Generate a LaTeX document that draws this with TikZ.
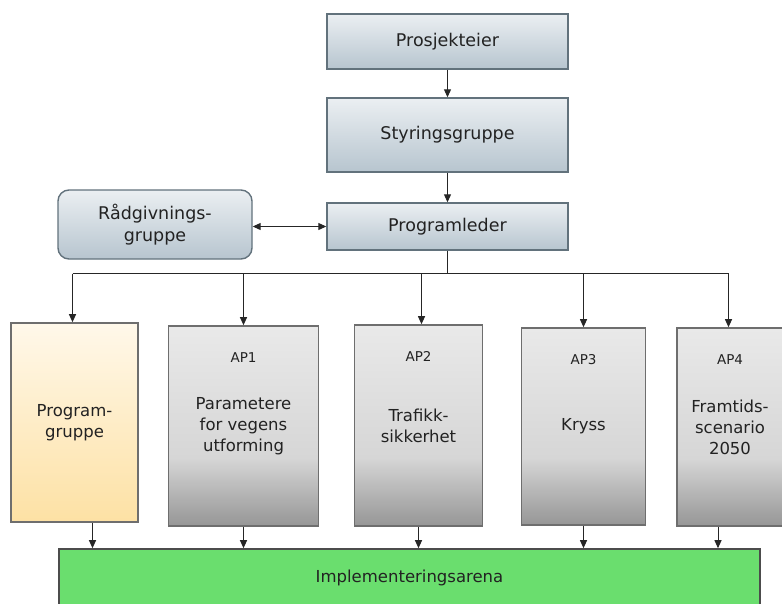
\documentclass[tikz,border=0pt]{standalone}
\usepackage{fontspec}
\setmainfont{DejaVu Sans}
\usetikzlibrary{arrows.meta}

\definecolor{hdtop}{HTML}{EBEFF2}
\definecolor{hdbot}{HTML}{B7C5CF}
\definecolor{hdline}{HTML}{62727C}
\definecolor{aptop}{HTML}{E9E9E9}
\definecolor{apmid}{HTML}{D6D6D6}
\definecolor{apbot}{HTML}{969696}
\definecolor{apline}{HTML}{6E6E6E}
\definecolor{pgtop}{HTML}{FFF8EA}
\definecolor{pgbot}{HTML}{FDE1A4}
\definecolor{implfill}{HTML}{6ADE6E}
\definecolor{txt}{HTML}{222222}

% grey work-package shading: light at the top, darkening in the lower third
\pgfdeclareverticalshading{apshade}{100bp}{color(0bp)=(apbot); color(25bp)=(apbot); color(42bp)=(apmid); color(75bp)=(aptop); color(100bp)=(aptop)}

\tikzset{
  hdbox/.style={draw=hdline, line width=1.4pt, top color=hdtop, bottom color=hdbot,
    text=txt, font=\fontsize{17.5}{22}\selectfont, align=center, inner sep=0pt},
  apbox/.style={draw=apline, line width=1.6pt, shading=apshade,
    text=txt, font=\fontsize{16.5}{21}\selectfont, align=center, inner sep=0pt},
  pgbox/.style={draw=apline, line width=1.6pt, top color=pgtop, bottom color=pgbot,
    text=txt, font=\fontsize{16.5}{21}\selectfont, align=center, inner sep=0pt},
  implbox/.style={draw=black!70, line width=1.6pt, fill=implfill,
    text=txt, font=\fontsize{16.5}{21}\selectfont, align=center, inner sep=0pt},
  aplabel/.style={text=txt, font=\fontsize{13.5}{15}\selectfont, inner sep=0pt},
  conn/.style={line width=1pt, draw=black!85},
  arr/.style={conn, -{Triangle[length=8pt,width=7pt]}},
  darr/.style={conn, {Triangle[length=8pt,width=7pt]}-{Triangle[length=8pt,width=7pt]}},
}

\begin{document}
\begin{tikzpicture}[x=1pt, y=-1pt]
  \useasboundingbox (0,0) rectangle (782,603);

  % management chain
  \node[hdbox, minimum width=241, minimum height=55] (proj) at (447.5,41.5) {Prosjekteier};
  \node[hdbox, minimum width=241, minimum height=74] (styr) at (447.5,135) {Styringsgruppe};
  \node[hdbox, minimum width=241, minimum height=47] (prog) at (447.5,226.5) {Programleder};
  \node[hdbox, rounded corners=11pt, minimum width=194, minimum height=69] (radg) at (155,224.5) {Rådgivnings-\\gruppe};

  % work packages
  \node[pgbox, minimum width=127, minimum height=199] (pg) at (74.5,422.5) {Program-\\gruppe};
  \node[apbox, minimum width=150, minimum height=200] (ap1) at (243.5,426) {Parametere\\for vegens\\utforming};
  \node[apbox, minimum width=128, minimum height=201] (ap2) at (418.5,425.5) {Trafikk-\\sikkerhet};
  \node[apbox, minimum width=124, minimum height=197] (ap3) at (583.5,426.5) {Kryss};
  \node[apbox, minimum width=106, minimum height=198] (ap4) at (730,427) {Framtids-\\scenario\\2050};

  \node[aplabel] (ap1t) at ([yshift=-32]ap1.north) {AP1};
  \node[aplabel] (ap2t) at ([yshift=-32]ap2.north) {AP2};
  \node[aplabel] (ap3t) at ([yshift=-32]ap3.north) {AP3};
  \node[aplabel] (ap4t) at ([yshift=-32]ap4.north) {AP4};

  % implementation arena
  \node[implbox, minimum width=701, minimum height=57] (impl) at (409.5,577.5) {Implementeringsarena};

  % connectors
  \draw[arr] (proj) -- (styr);
  \draw[arr] (styr) -- (prog);
  \draw[darr] (radg.east |- prog) -- (prog.west);

  \coordinate (busL) at (72.5,273.5);
  \coordinate (busR) at (728.5,273.5);
  \draw[conn] (prog.south) -- (prog.south |- busL);
  \draw[conn] (busL) -- (busR);
  \draw[arr] (busL) -- (busL |- pg.north);
  \draw[arr] (ap1.north |- busL) -- (ap1.north);
  \draw[arr] ([xshift=3]ap2.north |- busL) -- ([xshift=3]ap2.north);
  \draw[arr] (ap3.north |- busL) -- (ap3.north);
  \draw[arr] (busR) -- (busR |- ap4.north);

  \draw[arr] ([xshift=18]pg.south) -- ([xshift=18]pg.south |- impl.north);
  \draw[arr] (ap1.south) -- (ap1.south |- impl.north);
  \draw[arr] (ap2.south) -- (ap2.south |- impl.north);
  \draw[arr] (ap3.south) -- (ap3.south |- impl.north);
  \draw[arr] ([xshift=-12]ap4.south) -- ([xshift=-12]ap4.south |- impl.north);
\end{tikzpicture}
\end{document}
